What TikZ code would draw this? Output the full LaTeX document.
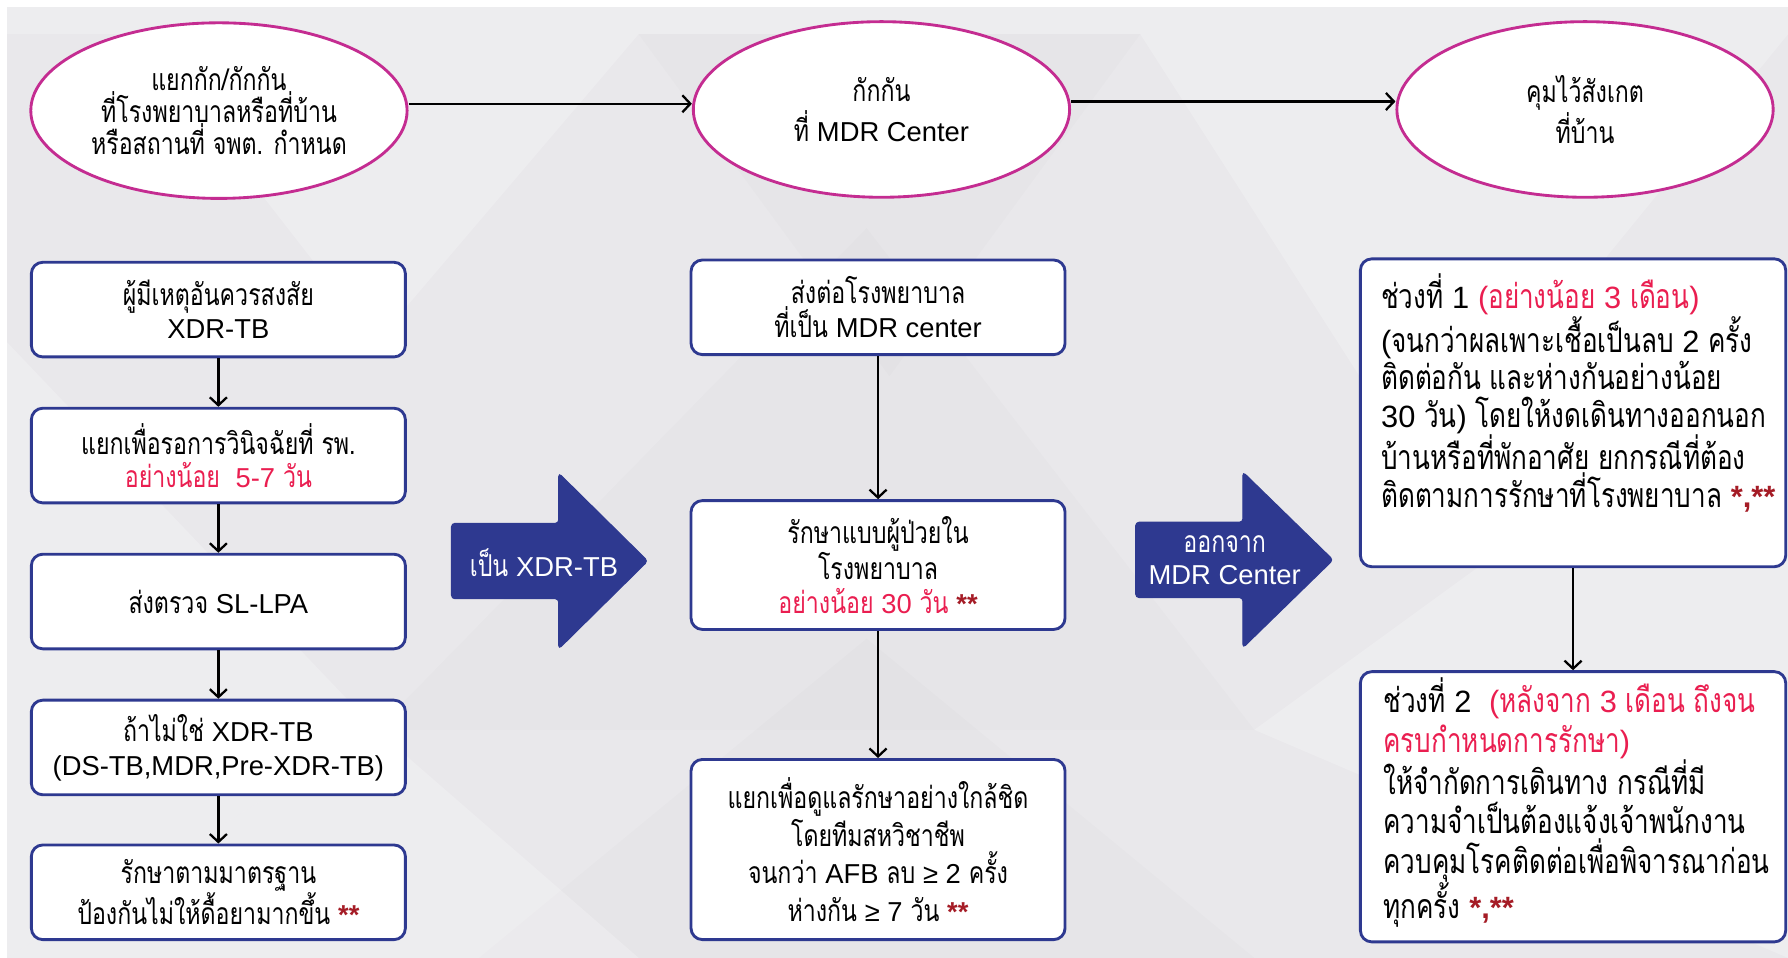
\documentclass[tikz,border=0pt]{standalone}
\usepackage{fontspec}
\setmainfont{Liberation Sans}
\newfontfamily\thaifont[Script=Thai, Scale=1.1, FakeStretch=0.77]{Loma}
\usetikzlibrary{arrows.meta,shapes.geometric}

\definecolor{navy}{RGB}{46,57,144}
\definecolor{magen}{RGB}{196,44,145}
\definecolor{pinkred}{RGB}{234,30,80}
\definecolor{darkred}{RGB}{165,28,38}
\definecolor{bggray}{RGB}{233,232,235}

% Latin runs, highlighted runs and footnote marks
\newcommand\lat[1]{{\rmfamily#1}}
\newcommand\hl[1]{\textcolor{pinkred}{#1}}
\newcommand\fnmarks[1]{\textcolor{darkred}{\rmfamily\bfseries#1}}

\tikzset{
  txt/.style={font=\thaifont\fontsize{24}{#1}\selectfont},
  bigtxt/.style={font=\thaifont\fontsize{27}{#1}\selectfont},
  oval/.style={ellipse, draw=magen, line width=2.5pt, fill=white,
    minimum width=330pt, minimum height=154pt, inner sep=0pt, align=center},
  stepbox/.style={draw=navy, line width=2.5pt, fill=white, rounded corners=10pt,
    minimum width=328pt, minimum height=83pt, inner sep=0pt, align=center},
  flow/.style={line width=2pt, -{Straight Barb[length=7pt,width=15pt]}},
  bigarrow/.style={fill=navy, draw=navy, line width=1pt, rounded corners=3pt},
  facet/.style={fill=white, opacity=0.22, draw=none},
  shade/.style={fill=black, opacity=0.012, draw=none}
}

\begin{document}
\begin{tikzpicture}[x=1pt,y=-1pt]
\useasboundingbox (0,0) rectangle (1568,840);

% background panel with faint low-poly facets
\fill[white] (0,0) rectangle (1568,840);
\fill[bggray] (6,6) rectangle (1568,840);
\fill[facet] (6,6) rectangle (1568,30);
\fill[facet] (6,300) -- (330,640) -- (6,840) -- cycle;
\fill[facet] (120,30) -- (560,30) -- (330,300) -- cycle;
\fill[shade] (560,30) -- (1000,30) -- (780,330) -- cycle;
\fill[facet] (1000,30) -- (1568,30) -- (1250,420) -- cycle;
\fill[shade] (330,640) -- (760,200) -- (1100,640) -- cycle;
\fill[facet] (1100,640) -- (1568,300) -- (1568,840) -- cycle;
\fill[shade] (420,840) -- (760,560) -- (1100,840) -- cycle;
\fill[facet] (6,840) -- (330,640) -- (560,840) -- cycle;

% top row: places of isolation
\node[oval, txt=27] (e1) at (192,97) {แยกกัก/กักกัน\\ที่โรงพยาบาลหรือที่บ้าน\\หรือสถานที่ จพต. กำหนด};
\node[oval, txt=35] (e2) at (773,96) {กักกัน\\ที่ \lat{MDR Center}};
\node[oval, txt=36] (e3) at (1390,96) {คุมไว้สังเกต\\ที่บ้าน};

\draw[flow] ([yshift=6pt]e1.east) -- ([yshift=6pt]e1.east -| e2.west);
\draw[flow] ([yshift=7pt]e2.east) -- ([yshift=7pt]e2.east -| e3.west);

% left column
\node[stepbox, txt=29] (l1) at (191.5,271.5) {ผู้มีเหตุอันควรสงสัย\\\lat{XDR-TB}};
\node[stepbox, txt=29] (l2) at (191.5,399.5) {แยกเพื่อรอการวินิจฉัยที่ รพ.\\\hl{อย่างน้อย\ \ \lat{5-7} วัน}};
\node[stepbox, txt=29] (l3) at (191.5,527.5) {ส่งตรวจ \lat{SL-LPA}};
\node[stepbox, txt=30] (l4) at (191.5,655.5) {ถ้าไม่ใช่ \lat{XDR-TB}\\\lat{(DS-TB,MDR,Pre-XDR-TB)}};
\node[stepbox, txt=29] (l5) at (191.5,782.5) {รักษาตามมาตรฐาน\\ป้องกันไม่ให้ดื้อยามากขึ้น \fnmarks{**}};

\draw[flow] (l1) -- (l2);
\draw[flow] (l2) -- (l3);
\draw[flow] (l3) -- (l4);
\draw[flow] (l4) -- (l5);

% middle column
\node[stepbox, txt=30] (m1) at (770,269.5) {ส่งต่อโรงพยาบาล\\ที่เป็น \lat{MDR center}};
\node[stepbox, txt=30, minimum height=113pt] (m2) at (770,495.5) {รักษาแบบผู้ป่วยใน\\โรงพยาบาล\\\hl{อย่างน้อย \lat{30} วัน} \fnmarks{**}};
\node[stepbox, txt=33, minimum height=158pt] (m3) at (770,745) {แยกเพื่อดูแลรักษาอย่างใกล้ชิด\\โดยทีมสหวิชาชีพ\\จนกว่า \lat{AFB} ลบ \lat{≥ 2} ครั้ง\\ห่างกัน \lat{≥ 7} วัน \fnmarks{**}};

\draw[flow] (m1) -- (m2);
\draw[flow] (m2) -- (m3);

% transition arrows
\filldraw[bigarrow] (396,459) -- (490,459) -- (490,415) -- (568,492) -- (490,569) -- (490,525) -- (396,525) -- cycle;
\node[txt=26, text=white] (ta) at (477,493) {เป็น \lat{XDR-TB}};
\filldraw[bigarrow] (996,458) -- (1090,458) -- (1090,414) -- (1169,491) -- (1090,568) -- (1090,524) -- (996,524) -- cycle;
\node[txt=28, text=white, align=center] (tb) at (1074,491) {ออกจาก\\\lat{MDR Center}};

% right column
\node[stepbox, minimum width=373pt, minimum height=270pt] (r1) at (1379.5,362) {};
\node[stepbox, minimum width=373pt, minimum height=237pt] (r2) at (1379.5,707.5) {};
\node[bigtxt=33, align=left, anchor=north west, inner sep=0pt] (r1t) at (1211,240)
  {ช่วงที่ \lat{1} \hl{\lat{(}อย่างน้อย \lat{3} เดือน\lat{)}}\\
   \lat{(}จนกว่าผลเพาะเชื้อเป็นลบ \lat{2} ครั้ง\\
   ติดต่อกัน และห่างกันอย่างน้อย\\
   \lat{30} วัน\lat{)} โดยให้งดเดินทางออกนอก\\
   บ้านหรือที่พักอาศัย ยกกรณีที่ต้อง\\
   ติดตามการรักษาที่โรงพยาบาล \fnmarks{*,**}};
\node[bigtxt=34.5, align=left, anchor=west, inner sep=0pt] (r2t) at (1213,704)
  {ช่วงที่ \lat{2}\ \ \hl{\lat{(}หลังจาก \lat{3} เดือน ถึงจน}\\
   \hl{ครบกำหนดการรักษา\lat{)}}\\
   ให้จำกัดการเดินทาง กรณีที่มี\\
   ความจำเป็นต้องแจ้งเจ้าพนักงาน\\
   ควบคุมโรคติดต่อเพื่อพิจารณาก่อน\\
   ทุกครั้ง \fnmarks{*,**}};

\draw[flow] (r1) -- (r2);
\end{tikzpicture}
\end{document}
